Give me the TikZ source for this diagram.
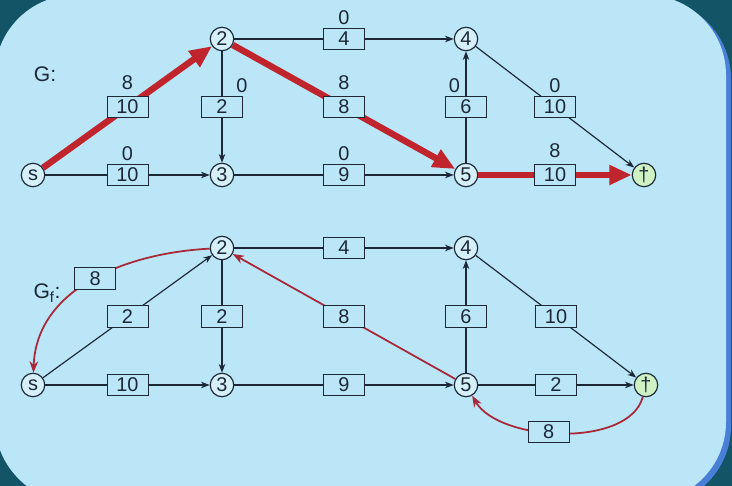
\documentclass[tikz,border=0pt]{standalone}
\usepackage{fontspec}
\setmainfont{Liberation Sans}
\usetikzlibrary{arrows.meta,positioning}
\definecolor{slidebg}{HTML}{BAE6F7}
\definecolor{frame}{HTML}{135466}
\definecolor{rim}{HTML}{4A7FD8}
\definecolor{ink}{HTML}{1C2838}
\definecolor{flowred}{HTML}{C0242C}
\definecolor{resred}{HTML}{A82838}
\definecolor{sinkfill}{HTML}{CFF2C4}

\begin{document}
\begin{tikzpicture}[
    x=0.03cm, y=0.03cm,
    >=Stealth,
    font=\fontsize{17}{20}\selectfont,
    label distance=-1pt,
    vertex/.style={circle, draw=ink, line width=1pt, fill=slidebg!60!white,
                   minimum size=20pt, inner sep=0pt, text=ink},
    sink/.style={vertex, fill=sinkfill},
    capbox/.style={draw=ink, line width=0.8pt, fill=slidebg, text=ink,
                   minimum width=35pt, minimum height=18pt, inner sep=0pt},
    flowlbl/.style={text=ink},
    edge/.style={->, draw=ink, line width=1pt},
    flowedge/.style={-{Triangle[length=19pt,width=16pt]}, draw=flowred, line width=5.5pt},
    backedge/.style={->, draw=resred, line width=1.5pt},
    title/.style={text=ink, font=\fontsize{18}{21}\selectfont},
]

\def\ytop{447}  % upper row of G
\def\ybot{311}  % lower row of G
\def\ytopr{238} % upper row of G_f
\def\ybotr{101} % lower row of G_f

% ── slide background ──
\useasboundingbox (0,0) rectangle (732,486);
\fill[frame] (0,0) rectangle (732,486);
\fill[rim, rounded corners=2.4cm] (-1,-20) rectangle (731,487);
\fill[slidebg, rounded corners=2.4cm] (-5,-16) rectangle (726,491);

% ══════════════════════════════════════════════════════════════
% TOP: network G with flow
% ══════════════════════════════════════════════════════════════
\node[title] (gtitle) at (45,412) {G:};

\node[vertex] (s)  at (33,\ybot)  {s};
\node[vertex] (v2) at (222,\ytop) {2};
\node[vertex] (v3) at (222,\ybot) {3};
\node[vertex] (v4) at (466,\ytop) {4};
\node[vertex] (v5) at (466,\ybot) {5};
\node[sink]   (t)  at (644,\ybot) {\textdagger};

% edges carrying no flow
\foreach \a/\b/\c/\f in {s/v3/10/0, v2/v4/4/0, v3/v5/9/0, v4/t/10/0}
    \draw[edge] (\a) -- node[capbox, label={[flowlbl]above:\f}] (c-\a-\b) {\c} (\b);
\draw[edge] (v2) -- node[capbox, label={[flowlbl,xshift=17pt]above:0}] (c-v2-v3) {2} (v3);
\draw[edge] (v5) -- node[capbox, label={[flowlbl,xshift=-10pt]above:0}] (c-v5-v4) {6} (v4);

% augmenting path s-2-5-t
\foreach \a/\b/\c/\f in {s/v2/10/8, v2/v5/8/8, v5/t/10/8}
    \draw[flowedge] (\a) -- node[capbox, label={[flowlbl]above:\f}] (c-\a-\b) {\c} (\b);

% ══════════════════════════════════════════════════════════════
% BOTTOM: residual network G_f
% ══════════════════════════════════════════════════════════════
\node[title] (ftitle) at (47,193) {G\textsubscript{f}:};

\node[vertex] (rs) at (33,\ybotr)  {s};
\node[vertex] (r2) at (222,\ytopr) {2};
\node[vertex] (r3) at (222,\ybotr) {3};
\node[vertex] (r4) at (466,\ytopr) {4};
\node[vertex] (r5) at (466,\ybotr) {5};
\node[sink]   (rt) at (646,\ybotr) {\textdagger};

% forward residual edges
\foreach \a/\b/\c in {r2/r4/4, r2/r3/2, rs/r2/2, rs/r3/10, r3/r5/9, r5/r4/6, r4/rt/10, r5/rt/2}
    \draw[edge] (\a) -- node[capbox] (c-\a-\b) {\c} (\b);

% backward residual edges
\draw[backedge] (r5) -- node[capbox] (c-r5-r2) {8} (r2);
\draw[backedge] (r2) to[out=183, in=88] node[capbox, pos=0.48] (c-r2-rs) {8} (rs);
\draw[backedge] (rt) to[out=-105, in=-60, looseness=0.8] node[capbox, pos=0.56] (c-rt-r5) {8} (r5);

\end{tikzpicture}
\end{document}
